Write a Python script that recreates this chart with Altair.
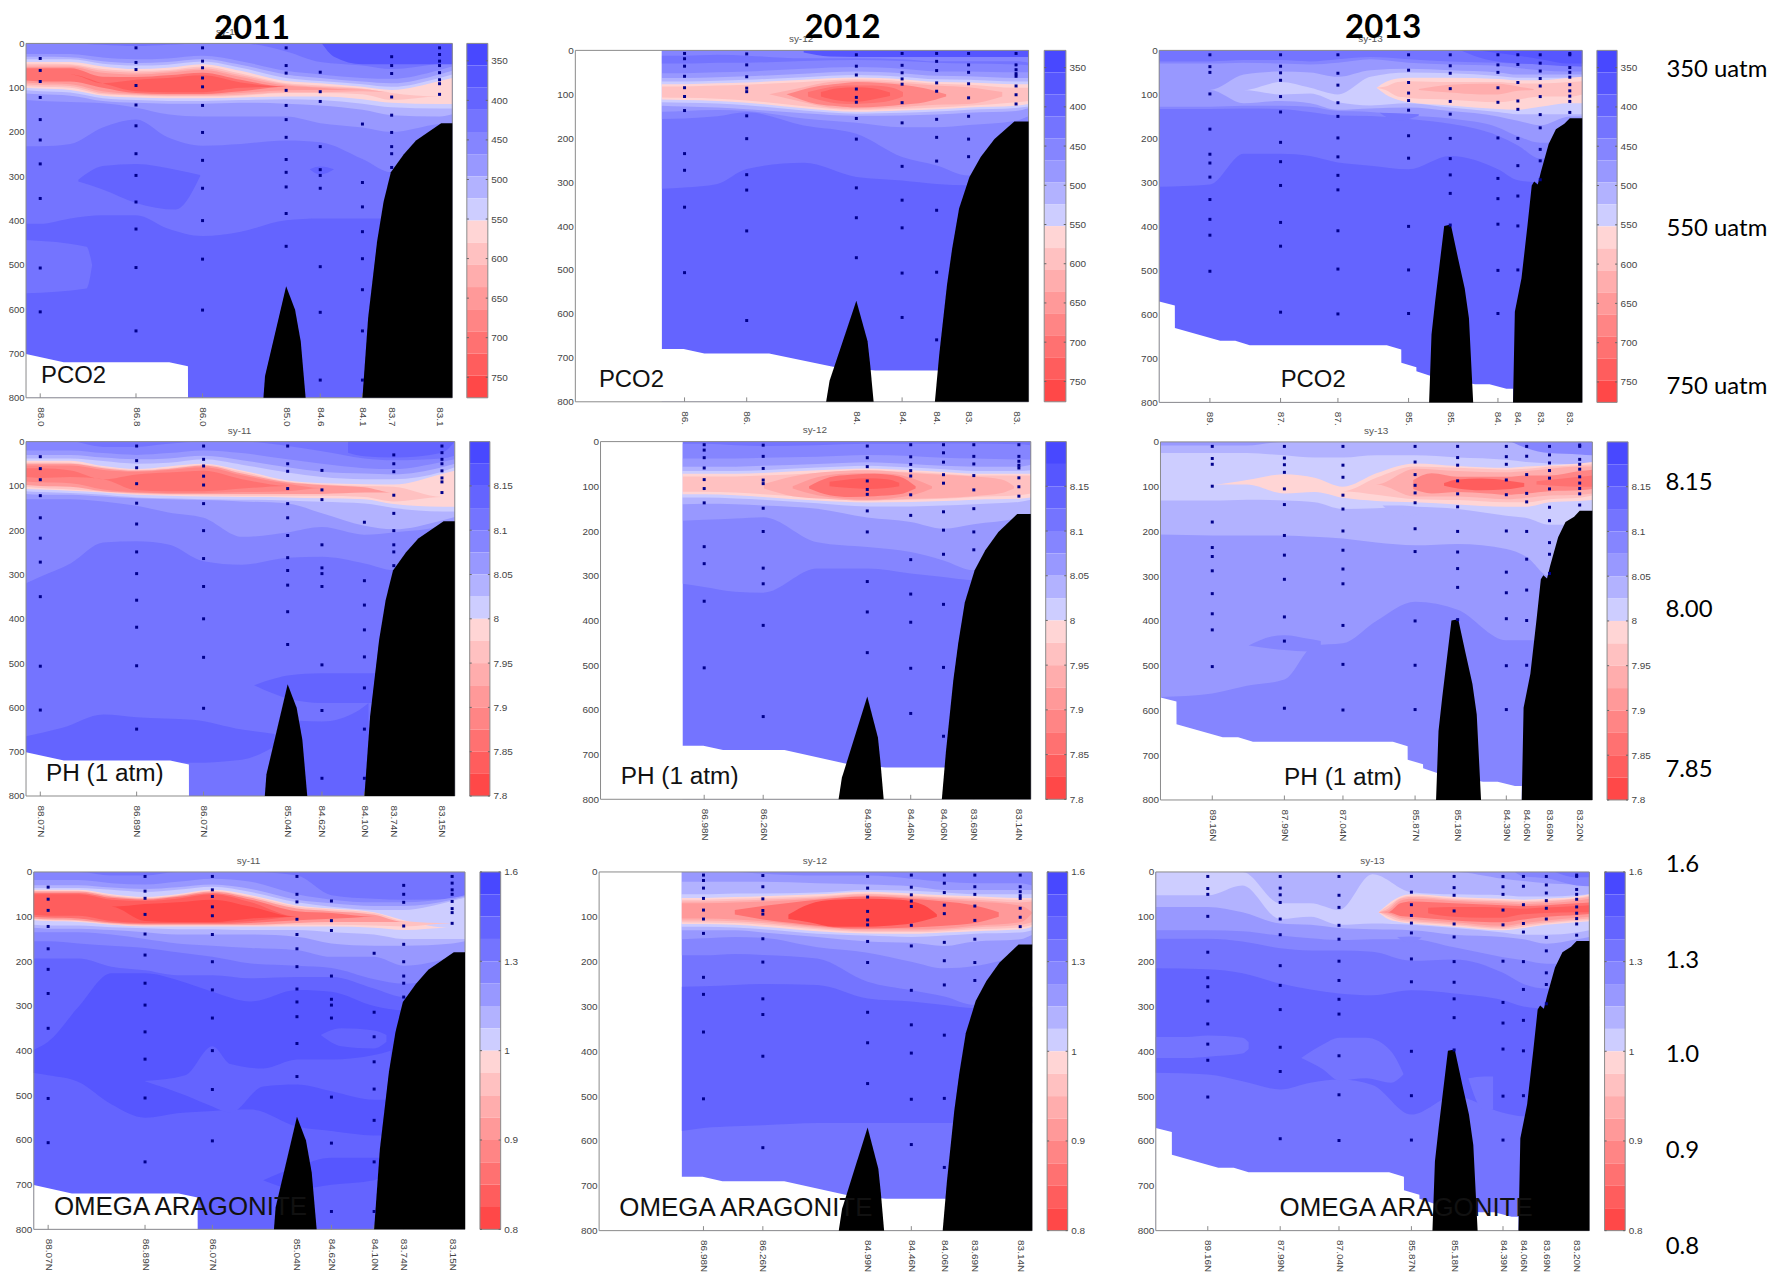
import altair as alt
import pandas as pd

W, H = 1767, 1267
SHADES = [72, 86, 100, 116, 133, 152, 178, 205, 213, 193, 173, 153, 133, 113, 93, 72]
COLORS = ["#%02x%02xff" % (s, s) for s in SHADES[:8]] + ["#ff%02x%02x" % (s, s) for s in SHADES[8:]]
LEVELS = list(range(16))

DOM11 = [88.245, 82.993]
DOM12 = [88.245, 82.995]
DOM13 = [90.0, 82.995]

G11 = [88.245, 88.07, 87.7, 87.3, 86.89, 86.5, 86.07, 85.6, 85.04, 84.62, 84.10, 83.74, 83.15, 82.993]
G12 = [87.245, 86.98, 86.6, 86.26, 85.6, 84.99, 84.46, 84.06, 83.69, 83.14, 82.995]
G13 = [90.0, 89.16, 88.6, 87.99, 87.5, 87.04, 86.5, 85.87, 85.18, 84.39, 84.06, 83.69, 83.2, 82.995]
CORE13 = [86.4, 86.25, 86.05, 85.87, 85.18, 84.39, 84.06, 83.69, 83.2, 82.995]

TICKS11 = [88.07, 86.89, 86.07, 85.04, 84.62, 84.10, 83.74, 83.15]
TICKS12 = [86.98, 86.26, 84.99, 84.46, 84.06, 83.69, 83.14]
TICKS13 = [89.16, 87.99, 87.04, 85.87, 85.18, 84.39, 84.06, 83.69, 83.20]

SAMPLES11 = {
    88.07: [34, 61, 86, 122, 172, 218, 272, 350, 507, 606],
    86.89: [10, 43, 59, 95, 139, 186, 249, 298, 358, 419, 506, 649],
    86.07: [10, 40, 55, 78, 98, 140, 201, 264, 327, 400, 487, 602],
    85.04: [10, 50, 67, 106, 140, 172, 212, 262, 291, 324, 384, 458],
    84.62: [65, 109, 131, 233, 285, 298, 327, 504, 607, 760],
    84.10: [182, 314, 369, 425, 486, 556, 649, 760],
    83.74: [30, 50, 68, 121, 162, 201, 233, 249, 280],
    83.15: [10, 25, 40, 50, 66, 82, 91, 115],
}
SAMPLES12 = {
    86.98: [7, 19, 36, 59, 85, 105, 137, 235, 273, 357, 506],
    86.26: [8, 33, 60, 86, 94, 149, 201, 283, 318, 411, 615],
    84.99: [10, 36, 56, 88, 107, 118, 155, 202, 313, 381, 472],
    84.46: [7, 34, 51, 65, 77, 119, 165, 264, 341, 404, 507, 608],
    84.06: [7, 25, 46, 74, 93, 157, 198, 252, 364, 505, 659],
    83.69: [7, 33, 50, 76, 108, 150, 202, 242],
    83.14: [7, 33, 44, 53, 59, 81, 101, 122],
}
SAMPLES13 = {
    89.16: [10, 37, 50, 99, 179, 236, 256, 288, 339, 384, 420, 502],
    87.99: [10, 36, 51, 68, 105, 140, 209, 253, 307, 391, 445, 595],
    87.04: [10, 52, 79, 119, 150, 199, 242, 284, 317, 410, 497, 599],
    85.87: [10, 45, 73, 97, 114, 136, 194, 245, 400, 499, 598],
    85.18: [10, 35, 52, 87, 116, 145, 200, 246, 283, 325, 397],
    84.39: [10, 33, 50, 85, 118, 199, 291, 337, 395, 500, 598],
    84.06: [10, 32, 73, 115, 134, 200, 262, 331, 399, 499],
    83.69: [10, 29, 47, 64, 81, 105, 146, 176, 225, 251, 294],
    83.20: [7, 10, 39, 50, 61, 78, 92, 104, 116, 141],
}

RIDGE11 = ([85.32, 85.30, 85.04, 84.93, 84.86, 84.80], [800, 751, 548, 601, 673, 800])
SHELF11 = ([84.10, 84.03, 83.92, 83.84, 83.75, 83.59, 83.44, 83.13, 82.993], [800, 620, 448, 358, 291, 250, 219, 180, 180])
RIDGE12 = ([85.34, 85.30, 84.99, 84.86, 84.83, 84.79], [800, 752, 570, 662, 715, 800])
SHELF12 = ([84.08, 84.03, 83.94, 83.88, 83.80, 83.68, 83.55, 83.39, 83.16, 82.995], [800, 693, 534, 451, 360, 288, 243, 202, 162, 162])
RIDGE13 = ([85.53, 85.49, 85.43, 85.28, 85.17, 85.05, 84.94, 84.87, 84.80], [800, 646, 571, 399, 396, 473, 541, 609, 800])
SHELF13 = ([84.14, 84.11, 84.0, 83.9, 83.83, 83.79, 83.73, 83.68, 83.55, 83.43, 83.29, 83.20, 82.995],
           [800, 594, 518, 397, 307, 298, 305, 277, 213, 179, 167, 154, 154])

MASK11 = ([88.245, 87.78, 86.48, 86.25, 86.249], [701, 720, 720, 729, 800])
MASK12 = ([88.245, 87.246, 87.245, 86.99, 86.75, 86.0, 85.26, 84.77, 84.05, 84.0], [0, 0, 680, 680, 690, 690, 720, 729, 729, 729])
MASK13 = ([90.0, 89.741, 89.74, 88.99, 88.74, 88.5, 86.23, 85.991, 85.99, 85.741, 85.74, 85.5, 84.77, 84.53, 84.25, 84.14],
          [571, 580, 631, 660, 660, 670, 670, 680, 710, 720, 729, 740, 759, 759, 769, 769])

# Filled contour bands, painted in order: (level, tops, bottoms[, latitudes])
PCO2_11 = [
    (2, 0, 800),
    (3, 0, [407, 407, 395, 388, 388, 418, 435, 425, 399, 395, 395, 395, 395, 395]),
    (3, [444, 459, 500], [564, 553, 500], [88.245, 87.5, 87.43]),
    (2, [308, 277, 272, 285, 297], [312, 330, 360, 375, 300], [87.6, 87.3, 86.89, 86.4, 86.1]),
    (2, [284, 278, 284], [284, 296, 284], [84.75, 84.62, 84.45]),
    (4, [0, 0, 0, 3, 6, 3, 0, 0, 18, 42, 50, 58, 45, 40], [232, 232, 227, 190, 172, 212, 231, 227, 219, 223, 261, 291, 290, 290]),
    (5, [24, 24, 24, 32, 36, 34, 28, 40, 62, 70, 78, 80, 60, 52], [128, 130, 132, 135, 145, 160, 165, 165, 165, 180, 190, 200, 182, 180]),
    (6, [30, 30, 31, 40, 44, 42, 35, 48, 70, 78, 86, 90, 70, 62], [113, 115, 118, 130, 134, 136, 136, 134, 136, 140, 150, 162, 165, 160]),
    (7, [36, 36, 36, 46, 50, 48, 41, 55, 78, 85, 92, 98, 78, 70], [106, 108, 111, 124, 128, 130, 130, 128, 126, 128, 136, 144, 147, 147]),
    (8, [42, 42, 42, 52, 58, 55, 47, 62, 85, 90, 98, 105, 85, 78], [100, 102, 105, 118, 122, 124, 124, 122, 120, 120, 126, 134, 137, 137]),
    (9, [46, 46, 47, 58, 62, 60, 52, 68, 90, 95, 102, 112, 120, 120], [96, 98, 100, 115, 118, 120, 120, 118, 112, 112, 115, 128, 120, 120]),
    (10, [50, 50, 50, 62, 66, 63, 56, 72, 92, 98, 103, 110, 110, 110], [92, 94, 96, 112, 116, 118, 118, 116, 110, 110, 108, 110, 110, 110]),
    (11, [53, 53, 53, 66, 70, 66, 60, 76, 95, 100, 105, 105, 105, 105], [88, 90, 92, 108, 114, 116, 116, 112, 106, 105, 105, 105, 105, 105]),
    (13, [56, 56, 56, 75, 76, 72, 66, 82, 98, 98, 98, 98, 98, 98], [84, 86, 86, 100, 112, 114, 114, 108, 98, 98, 98, 98, 98, 98]),
    (14, [70, 70, 70, 90, 82, 78, 72, 88, 98, 98, 98, 98, 98, 98], [70, 70, 70, 90, 108, 110, 110, 100, 98, 98, 98, 98, 98, 98]),
    (1, 0, [0, 30, 47, 47, 47, 47], [84.6, 84.45, 84.1, 83.74, 83.15, 82.993]),
]
PH_11 = [
    (3, 0, 800),
    (2, [665, 646, 616, 622, 628, 650, 660], [720, 725, 725, 725, 725, 718, 688], [88.245, 87.8, 87.3, 86.89, 86.2, 85.6, 85.2]),
    (2, [550, 535, 528, 523, 523, 523], [550, 570, 580, 590, 590, 590], [85.45, 85.2, 85.04, 84.62, 84.10, 83.95]),
    (2, [630, 632, 610, 590], [800, 800, 800, 800], [84.9, 84.62, 84.2, 84.05]),
    (4, [0, 0, 0, 12, 12, 5, 0, 0, 10, 22, 38, 42, 38, 32], [320, 305, 275, 228, 225, 232, 270, 278, 262, 260, 275, 290, 290, 290]),
    (5, [20, 20, 20, 26, 30, 26, 20, 26, 40, 50, 60, 62, 46, 40], [130, 130, 130, 135, 145, 160, 172, 215, 205, 193, 210, 205, 190, 180]),
    (6, [30, 30, 30, 36, 40, 38, 32, 42, 58, 68, 72, 74, 58, 50], [118, 120, 120, 124, 128, 130, 132, 135, 140, 162, 190, 198, 178, 170]),
    (7, [38, 38, 38, 44, 50, 48, 40, 52, 70, 80, 85, 85, 68, 58], [112, 114, 116, 120, 126, 128, 130, 131, 133, 136, 140, 150, 158, 158]),
    (8, [43, 43, 43, 55, 62, 56, 50, 65, 88, 94, 96, 97, 73, 66], [107, 108, 111, 115, 120, 122, 124, 125, 126, 128, 130, 141, 147, 147]),
    (9, [47, 47, 48, 58, 64, 60, 52, 68, 90, 96, 100, 102, 125, 125], [102, 105, 108, 113, 118, 120, 121, 122, 122, 122, 125, 135, 125, 125]),
    (11, [50, 50, 50, 60, 66, 62, 54, 72, 92, 98, 103, 115, 115, 115], [98, 100, 102, 112, 116, 118, 118, 118, 118, 118, 115, 115, 115, 115]),
    (12, [54, 54, 54, 64, 68, 64, 58, 76, 95, 105, 105, 105, 105, 105], [90, 92, 94, 108, 114, 116, 116, 114, 112, 105, 105, 105, 105, 105]),
    (13, [60, 60, 65, 85, 74, 70, 66, 85, 100, 100, 100, 100, 100, 100], [80, 82, 80, 85, 110, 112, 112, 106, 100, 100, 100, 100, 100, 100]),
    (2, 0, [25, 33, 36, 25, 0], [84.3, 84.1, 83.74, 83.15, 82.993]),
]
OMEGA_11 = [
    (2, 0, 800),
    (1, [398, 380, 302, 227, 227, 242, 268, 290, 264, 268, 300, 310, 310, 310], [450, 455, 470, 520, 550, 540, 535, 532, 570, 580, 590, 590, 590, 590]),
    (2, [468, 455, 390, 430, 440, 420, 420, 410, 400], [468, 500, 525, 539, 480, 476, 491, 510, 510], [86.9, 86.4, 86.07, 85.85, 85.45, 85.04, 84.62, 84.1, 83.9]),
    (2, [365, 350, 355, 365], [365, 390, 395, 380], [84.75, 84.5, 84.1, 83.95]),
    (1, [690, 660, 640, 640, 640], [690, 710, 700, 690, 680], [85.45, 85.04, 84.62, 84.1, 84.0]),
    (3, 0, [194, 194, 194, 212, 220, 231, 231, 238, 235, 235, 261, 280, 280, 280]),
    (4, [0, 0, 0, 8, 8, 0, 0, 0, 8, 52, 60, 62, 60, 58], [155, 155, 160, 165, 170, 180, 190, 205, 210, 215, 240, 250, 240, 240]),
    (5, [18, 18, 18, 25, 28, 22, 15, 22, 50, 62, 68, 68, 58, 52], [135, 135, 135, 140, 150, 160, 165, 170, 175, 190, 190, 210, 190, 180]),
    (6, [30, 30, 30, 35, 38, 34, 28, 38, 62, 70, 76, 76, 62, 55], [125, 127, 127, 130, 135, 140, 140, 140, 145, 160, 165, 165, 160, 155]),
    (7, [36, 36, 36, 40, 45, 40, 33, 45, 68, 78, 85, 85, 65, 58], [118, 120, 120, 124, 126, 128, 128, 130, 130, 135, 140, 150, 150, 150]),
    (8, [40, 40, 40, 50, 56, 50, 40, 52, 75, 82, 90, 108, 125, 125], [108, 110, 112, 118, 122, 122, 122, 122, 122, 122, 125, 130, 125, 125]),
    (9, [42, 42, 42, 52, 58, 52, 42, 55, 78, 84, 92, 110, 115, 115], [106, 108, 110, 117, 120, 120, 120, 120, 118, 118, 120, 122, 115, 115]),
    (11, [44, 44, 44, 55, 60, 54, 44, 58, 82, 88, 96, 112, 112, 112], [104, 106, 108, 115, 118, 118, 118, 118, 114, 112, 112, 112, 112, 112]),
    (13, [47, 47, 47, 58, 62, 56, 47, 62, 88, 92, 100, 100, 100, 100], [100, 102, 104, 113, 116, 116, 116, 114, 108, 105, 100, 100, 100, 100]),
    (14, [50, 50, 50, 62, 65, 60, 50, 68, 100, 100, 100, 100, 100, 100], [96, 98, 98, 110, 114, 114, 114, 110, 100, 100, 100, 100, 100, 100]),
    (15, [78, 78, 78, 78, 72, 68, 62, 78, 100, 100, 100, 100, 100, 100], [78, 78, 78, 78, 110, 112, 112, 104, 100, 100, 100, 100, 100, 100]),
]
PCO2_12 = [
    (2, 0, 800),
    (3, 0, [315, 312, 304, 270, 256, 288, 296, 304, 307, 300, 300]),
    (4, 0, [156, 155, 150, 141, 171, 190, 243, 262, 285, 280, 280]),
    (3, [12, 12, 10, 12, 18, 18, 20, 25, 25, 25, 28], [30, 30, 28, 28, 24, 22, 24, 28, 30, 32, 34]),
    (5, [52, 52, 50, 48, 42, 38, 42, 48, 48, 50, 50], [140, 138, 136, 138, 155, 165, 175, 175, 170, 160, 150]),
    (6, [63, 63, 61, 59, 53, 48, 52, 58, 59, 63, 63], [126, 128, 130, 134, 143, 149, 148, 146, 142, 138, 132]),
    (7, [71, 71, 69, 67, 61, 56, 60, 66, 67, 71, 71], [118, 119, 121, 125, 137, 144, 142, 139, 135, 131, 128]),
    (8, [77, 77, 75, 73, 67, 62, 66, 72, 73, 77, 77], [112, 113, 115, 119, 132, 140, 137, 134, 130, 126, 122]),
    (9, [82, 82, 80, 78, 72, 66, 70, 76, 78, 85, 85], [107, 108, 110, 114, 127, 136, 133, 130, 126, 118, 115]),
    (10, [100, 84, 72, 69, 74, 80, 84, 95], [100, 118, 130, 133, 129, 124, 122, 105], [86.0, 85.6, 85.3, 84.99, 84.46, 84.06, 83.69, 83.3]),
    (12, [100, 82, 76, 72, 74, 78, 86, 100], [100, 122, 127, 130, 128, 124, 118, 105], [85.8, 85.45, 85.2, 84.99, 84.7, 84.46, 84.2, 83.95]),
    (13, [95, 84, 80, 80, 86, 95], [105, 118, 122, 120, 112, 105], [85.55, 85.3, 85.1, 84.8, 84.55, 84.45]),
    (14, [95, 86, 84, 86, 96], [105, 114, 117, 112, 104], [85.4, 85.2, 84.99, 84.8, 84.6]),
    (1, 0, [5, 14, 15, 15, 15, 15], [85.6, 85.3, 84.99, 84.06, 83.14, 82.995]),
]
PH_12 = [
    (3, 0, 800),
    (4, [5, 5, 8, 10, 8, 5, 5, 4, 4, 6, 8], [318, 325, 336, 338, 284, 284, 295, 303, 310, 300, 300]),
    (5, [38, 38, 38, 36, 34, 30, 32, 36, 38, 40, 40], [177, 175, 172, 169, 225, 236, 247, 266, 288, 280, 280]),
    (6, [56, 56, 56, 54, 50, 46, 50, 54, 56, 56, 52], [140, 139, 140, 143, 150, 170, 180, 195, 185, 170, 160]),
    (7, [66, 66, 66, 64, 58, 54, 58, 62, 66, 66, 64], [125, 125, 127, 130, 138, 145, 145, 143, 140, 135, 130]),
    (8, [72, 72, 72, 70, 64, 60, 64, 68, 72, 72, 72], [118, 118, 120, 124, 132, 136, 135, 133, 130, 128, 125]),
    (9, [78, 78, 78, 76, 70, 64, 68, 72, 76, 76, 76], [112, 112, 114, 118, 126, 132, 130, 128, 124, 120, 116]),
    (10, [95, 78, 68, 64, 70, 74, 78, 85, 100], [105, 122, 128, 132, 128, 126, 122, 115, 105], [86.25, 85.9, 85.5, 84.99, 84.46, 84.06, 83.69, 83.35, 83.2]),
    (11, [100, 80, 72, 70, 72, 85, 100], [105, 120, 127, 130, 127, 118, 105], [85.9, 85.6, 85.3, 84.99, 84.7, 84.4, 84.2]),
    (13, [100, 80, 74, 72, 78, 100], [105, 120, 124, 122, 118, 105], [85.7, 85.45, 85.2, 84.9, 84.6, 84.4]),
    (14, [90, 84, 82, 84, 92], [100, 104, 106, 104, 100], [85.45, 85.2, 84.99, 84.75, 84.6]),
]
OMEGA_12 = [
    (3, 0, 800),
    (2, [256, 255, 252, 250, 252, 282, 289, 297, 304, 300, 300], [578, 571, 567, 565, 560, 560, 560, 560, 560, 560, 560]),
    (4, 0, [186, 186, 183, 185, 193, 245, 264, 278, 297, 290, 290]),
    (5, [0, 0, 0, 4, 8, 8, 15, 22, 25, 25, 30], [150, 148, 145, 147, 168, 180, 200, 215, 210, 180, 165]),
    (6, [22, 22, 22, 22, 25, 28, 32, 40, 40, 40, 40], [130, 130, 130, 135, 145, 155, 158, 165, 155, 150, 140]),
    (7, [50, 50, 48, 48, 46, 40, 42, 46, 50, 50, 50], [122, 122, 124, 128, 138, 142, 145, 142, 138, 135, 130]),
    (8, [58, 58, 56, 54, 50, 44, 48, 52, 54, 58, 58], [116, 116, 118, 122, 132, 137, 138, 135, 132, 128, 122]),
    (9, [62, 62, 60, 58, 54, 48, 52, 56, 58, 62, 62], [112, 113, 114, 118, 128, 134, 134, 132, 128, 124, 118]),
    (10, [66, 66, 64, 62, 57, 50, 54, 58, 62, 68, 66], [108, 108, 110, 114, 125, 131, 131, 129, 124, 118, 112]),
    (11, [70, 70, 68, 66, 60, 53, 57, 62, 66, 75, 90], [104, 104, 106, 110, 122, 128, 128, 126, 120, 112, 92]),
    (13, [85, 76, 68, 62, 56, 55, 60, 66, 75, 90], [95, 106, 114, 120, 126, 126, 124, 120, 114, 100], [86.6, 86.26, 85.9, 85.6, 85.2, 84.99, 84.46, 84.06, 83.69, 83.4]),
    (15, [95, 72, 62, 60, 62, 75, 95], [105, 112, 122, 122, 118, 108, 100], [85.95, 85.7, 85.4, 84.99, 84.6, 84.3, 84.15]),
]
PCO2_13 = [
    (2, 0, 800),
    (3, 0, [310, 305, 235, 235, 240, 255, 262, 270, 240, 270, 295, 300, 300, 300]),
    (4, [25, 25, 22, 22, 25, 20, 15, 20, 25, 28, 30, 32, 35, 38], [133, 133, 132, 133, 140, 148, 149, 156, 167, 194, 216, 246, 240, 240]),
    (5, [30, 30, 28, 30, 32, 28, 20, 28, 32, 35, 40, 45, 48, 48], [128, 128, 126, 126, 128, 138, 140, 148, 155, 175, 195, 210, 200, 180]),
    (6, [90, 90, 55, 48, 50, 60, 45, 42, 45, 50, 55, 55, 55, 55], [90, 90, 120, 115, 120, 135, 132, 130, 138, 150, 160, 170, 150, 150]),
    (7, [90, 90, 90, 72, 85, 100, 60, 50, 52, 58, 62, 62, 62, 62], [90, 90, 90, 100, 98, 118, 125, 120, 130, 140, 145, 145, 145, 145]),
    (8, [85, 72, 64, 62, 62, 65, 68, 68, 62, 60], [85, 100, 112, 118, 125, 133, 135, 128, 120, 120], CORE13),
    (9, [85, 82, 72, 70, 72, 72, 75, 75, 72, 70], [85, 90, 105, 108, 112, 118, 112, 105, 105, 100], CORE13),
    (10, [88, 78, 76, 76, 82, 88], [90, 96, 100, 100, 92, 90], [85.7, 85.18, 84.7, 84.39, 84.06, 83.8]),
    (2, 0, [0, 20, 28, 32, 36, 36], [85.0, 84.6, 84.2, 83.69, 83.2, 82.995]),
    (1, 0, [0, 6, 12, 20, 30, 30], [84.7, 84.39, 84.06, 83.69, 83.2, 82.995]),
    (3, [142, 143, 145], [142, 160, 148], [86.35, 86.05, 85.7]),
]
PH_13 = [
    (4, 0, 800),
    (5, 0, [570, 562, 545, 531, 455, 450, 400, 357, 375, 443, 443, 443, 443, 443]),
    (4, [455, 435, 432, 440, 445], [455, 462, 465, 468, 468], [88.57, 88.2, 87.99, 87.6, 87.4]),
    (6, [8, 8, 8, 0, 0, 0, 0, 0, 0, 0, 8, 14, 18, 20], [207, 209, 209, 209, 212, 216, 225, 231, 228, 239, 257, 300, 290, 290]),
    (7, [25, 25, 25, 30, 35, 35, 30, 30, 35, 40, 45, 48, 50, 50], [131, 131, 129, 131, 135, 150, 148, 145, 150, 165, 170, 185, 185, 185]),
    (6, [142, 142, 143, 150], [142, 160, 165, 150], [86.4, 86.2, 85.95, 85.7]),
    (8, [95, 95, 85, 72, 80, 100, 70, 48, 54, 58, 55, 52, 48, 45], [95, 95, 95, 115, 112, 125, 132, 135, 140, 145, 145, 135, 132, 130]),
    (9, [110, 110, 110, 110, 110, 110, 80, 55, 58, 62, 60, 55, 52, 50], [110, 110, 110, 110, 110, 110, 118, 128, 130, 135, 135, 128, 125, 120]),
    (10, [95, 95, 95, 95, 95, 95, 95, 60, 65, 68, 65, 60, 55, 55], [95, 95, 95, 95, 95, 95, 95, 122, 122, 128, 125, 120, 118, 115]),
    (12, [85, 70, 78, 78, 78, 75, 75, 65, 62], [105, 115, 112, 115, 118, 115, 110, 108, 105], [85.9, 85.6, 85.18, 84.7, 84.39, 84.06, 83.69, 83.2, 82.995]),
    (14, [92, 84, 82, 86, 92], [98, 104, 108, 106, 100], [85.4, 85.18, 84.8, 84.39, 84.1]),
    (13, [88, 78, 75], [95, 100, 100], [83.9, 83.2, 82.995]),
    (4, 0, [0, 14, 25, 28, 30], [84.3, 84.06, 83.69, 83.2, 82.995]),
]
OMEGA_13 = [
    (3, 0, 800),
    (2, [215, 217, 226, 249, 262, 271, 275, 264, 271, 286, 300, 305, 300, 300], [448, 452, 467, 485, 470, 463, 475, 541, 500, 537, 545, 545, 545, 545]),
    (3, [368, 368, 365, 370, 380], [415, 415, 412, 405, 395], [90.0, 89.5, 89.16, 88.6, 88.5]),
    (3, [415, 385, 370, 370, 400, 450], [415, 440, 465, 460, 470, 452], [87.65, 87.3, 87.04, 86.6, 86.2, 86.0]),
    (3, [460, 456, 456], [460, 530, 530], [84.95, 84.7, 84.55]),
    (4, 0, [149, 149, 155, 170, 175, 175, 178, 198, 195, 225, 250, 260, 260, 260]),
    (5, 0, [130, 130, 132, 142, 148, 152, 150, 150, 168, 190, 197, 205, 200, 195]),
    (6, [0, 0, 0, 0, 0, 0, 0, 0, 0, 15, 20, 25, 28, 30], [78, 78, 90, 115, 118, 125, 128, 130, 140, 145, 150, 160, 150, 145]),
    (7, [0, 0, 0, 70, 70, 85, 5, 45, 50, 52, 55, 55, 52, 50], [52, 52, 30, 105, 100, 118, 115, 118, 125, 135, 140, 140, 135, 130]),
    (4, [145, 144, 146], [145, 158, 146], [86.1, 85.9, 85.7]),
    (8, [90, 72, 55, 50, 56, 60, 62, 60, 55, 50], [90, 105, 112, 115, 122, 130, 125, 118, 112, 110], CORE13),
    (9, [90, 76, 58, 53, 59, 63, 65, 63, 58, 53], [90, 100, 110, 112, 119, 127, 122, 115, 109, 107], CORE13),
    (10, [90, 82, 60, 56, 62, 66, 68, 66, 60, 56], [90, 96, 106, 109, 116, 124, 118, 112, 106, 104], CORE13),
    (11, [90, 86, 64, 60, 65, 70, 72, 70, 64, 60], [90, 92, 102, 105, 112, 120, 114, 108, 102, 100], CORE13),
    (13, [90, 90, 70, 66, 70, 74, 76, 74, 70, 68], [90, 90, 98, 100, 108, 112, 106, 100, 96, 94], CORE13),
    (14, [80, 78, 78, 80, 82, 80, 76, 74], [92, 100, 102, 102, 95, 92, 90, 90], [85.6, 85.18, 84.7, 84.39, 84.1, 83.8, 83.2, 82.995]),
    (4, 0, [0, 10, 14, 30, 32], [84.2, 84.06, 83.69, 83.2, 82.995]),
    (3, 0, [0, 12, 12], [83.55, 83.2, 82.995]),
]

EDGES_PCO2 = [328, 356, 384, 412, 440, 468, 496, 524, 552, 580, 608, 636, 664, 692, 720, 748, 776]
EDGES_PH = [8.2, 8.175, 8.15, 8.125, 8.1, 8.075, 8.05, 8.025, 8.0, 7.975, 7.95, 7.925, 7.9, 7.875, 7.85, 7.825, 7.8]
EDGES_OMEGA = [1.6, 1.525, 1.45, 1.375, 1.3, 1.225, 1.15, 1.075, 1.0, 0.975, 0.95, 0.925, 0.9, 0.875, 0.85, 0.825, 0.8]
BAR_PCO2 = [350, 400, 450, 500, 550, 600, 650, 700, 750]
BAR_PH = [8.15, 8.1, 8.05, 8, 7.95, 7.9, 7.85, 7.8]
BAR_OMEGA = [1.6, 1.3, 1, 0.9, 0.8]

SANS = "Liberation Sans"
CAL = "Lato"
GREY = "#444444"
FRAME = "#8a8a8a"


def scale(domain, rng):
    return alt.Scale(domain=domain, range=rng, nice=False, zero=False)


def bands_frame(grid, bands):
    rows = []
    for seq, band in enumerate(bands):
        lvl, tops, bots = band[:3]
        xs = band[3] if len(band) > 3 else grid
        n = len(xs)
        tops = tops if isinstance(tops, list) else [tops] * n
        bots = bots if isinstance(bots, list) else [bots] * n
        for x, t, b in zip(xs, tops, bots):
            rows.append({"lat": x, "top": t, "bot": b, "lvl": lvl, "seq": seq})
    return pd.DataFrame(rows)


COLOR = alt.Color("lvl:O", scale=alt.Scale(domain=LEVELS, range=COLORS), legend=None)


def panel(geom, dom, grid, bands, mask, ridge, shelf, samples, ticks, cut, label, lab_lat, lab_align, lab_size, sy_text, sy_lat, ylabsize):
    xl, xr, yt, yb = geom
    sx = scale(dom, [xl - 16, xr - 16])
    sy = scale([0, 800], [yt - 8, yb - 8])
    X = alt.X("lat:Q", scale=sx, axis=None)
    Y = alt.Y("d:Q", scale=sy, axis=None)
    if cut:
        expr = "slice(format(datum.value,'.2f'),0,%d)" % cut
    else:
        expr = "format(datum.value,'.2f')+'N'"
    xaxis = alt.Axis(title="", orient="bottom", offset=yb - 8 - H, values=ticks, labelExpr=expr, labelAngle=90,
                     labelAlign="left", labelBaseline="middle", labelPadding=9, labelOverlap=False, labelFontSize=10,
                     labelFont=SANS, labelColor=GREY, grid=False, domain=False, ticks=False)
    yaxis = alt.Axis(title="", orient="left", offset=-(xl - 16), values=list(range(0, 801, 100)), labelPadding=2,
                     labelFontSize=ylabsize, labelFont=SANS, labelColor=GREY, grid=False, domain=False, ticks=False)
    df = bands_frame(grid, bands)
    layers = [
        alt.Chart(df).mark_area(interpolate="monotone").encode(
            x=alt.X("lat:Q", scale=sx, axis=xaxis),
            y=alt.Y("top:Q", scale=sy, axis=yaxis),
            y2="bot:Q",
            color=COLOR,
            detail="seq:N",
        )
    ]
    mdf = pd.DataFrame({"lat": mask[0], "d": mask[1], "b": [800] * len(mask[0])})
    layers.append(alt.Chart(mdf).mark_area(color="white").encode(x=X, y=Y, y2="b:Q"))
    frame = pd.DataFrame({"lat": [dom[0]], "lat2": [dom[1]], "d": [0], "d2": [800]})
    layers.append(alt.Chart(frame).mark_rect(fillOpacity=0, stroke=FRAME, strokeWidth=1).encode(x=X, x2="lat2:Q", y=Y, y2="d2:Q"))
    tdf = pd.DataFrame({"lat": ticks, "d": [800] * len(ticks), "d2": [790] * len(ticks)})
    layers.append(alt.Chart(tdf).mark_rule(color=FRAME, strokeWidth=1).encode(x=X, y=Y, y2="d2:Q"))
    for part in (ridge, shelf):
        pdf = pd.DataFrame({"lat": part[0], "d": part[1], "b": [800] * len(part[0])})
        layers.append(alt.Chart(pdf).mark_area(color="black").encode(x=X, y=Y, y2="b:Q"))
    dots = pd.DataFrame([{"lat": k, "d": v} for k, vals in samples.items() for v in vals])
    layers.append(alt.Chart(dots).mark_square(size=9, color="#00008c", opacity=1).encode(x=X, y=Y))
    ldf = pd.DataFrame({"lat": [lab_lat], "d": [750], "t": [label]})
    layers.append(alt.Chart(ldf).mark_text(font=SANS, fontSize=lab_size, align=lab_align, baseline="middle", color="#111111").encode(x=X, y=Y, text="t:N"))
    sdf = pd.DataFrame({"lat": [sy_lat], "d": [-25], "t": [sy_text]})
    layers.append(alt.Chart(sdf).mark_text(font=SANS, fontSize=10, align="center", baseline="middle", color="#555555").encode(x=X, y=Y, text="t:N"))
    return layers


def colorbar(xs, ys, edges, dom, rng, ticks, size):
    sx = scale([0, 1], [xs[0] - 16, xs[1] - 16])
    sy = scale(dom, rng)
    rows = [{"a": 0, "b": 1, "v": edges[i], "v2": edges[i + 1], "lvl": i} for i in LEVELS]
    yaxis = alt.Axis(title="", orient="right", offset=xs[1] - 16 - W, values=ticks, labelExpr="''+datum.value", labelPadding=3,
                     labelFontSize=size, labelFont=SANS, labelColor=GREY, grid=False, domain=False, ticks=False)
    bar = alt.Chart(pd.DataFrame(rows)).mark_rect().encode(
        x=alt.X("a:Q", scale=sx, axis=None), x2="b:Q",
        y=alt.Y("v:Q", scale=sy, axis=yaxis), y2="v2:Q", color=COLOR)
    frame = pd.DataFrame({"a": [0], "b": [1], "v": [dom[0]], "v2": [dom[-1]]})
    box = alt.Chart(frame).mark_rect(fillOpacity=0, stroke=FRAME, strokeWidth=1).encode(
        x=alt.X("a:Q", scale=sx, axis=None), x2="b:Q", y=alt.Y("v:Q", scale=sy, axis=None), y2="v2:Q")
    marks = [{"a": p, "b": q, "v": t} for t in ticks for p, q in ((0, 0.1), (0.9, 1))]
    tk = alt.Chart(pd.DataFrame(marks)).mark_rule(color="#666666", strokeWidth=1).encode(
        x=alt.X("a:Q", scale=sx, axis=None), x2="b:Q", y=alt.Y("v:Q", scale=sy, axis=None))
    return [bar, box, tk]


def note(geom, dom, lat, depth, text, size, weight="normal", align="left"):
    xl, xr, yt, yb = geom
    sx = scale(dom, [xl - 16, xr - 16])
    sy = scale([0, 800], [yt - 8, yb - 8])
    df = pd.DataFrame({"lat": [lat], "d": [depth], "t": [text]})
    return alt.Chart(df).mark_text(font=CAL, fontSize=size, fontWeight=weight, align=align, baseline="middle", color="black").encode(
        x=alt.X("lat:Q", scale=sx, axis=None), y=alt.Y("d:Q", scale=sy, axis=None), text="t:N")


R1 = [(26.1, 454.3, 40.7, 396.7), (577.9, 1033.2, 47.7, 400.7), (1164.4, 1589.3, 47.7, 401.3)]
R2 = [(26.1, 456.8, 440.7, 796.7), (603.2, 1035.4, 440.7, 800), (1165.7, 1599.5, 441, 800.7)]
R3 = [(33.9, 467.1, 873, 1232), (601.8, 1036.8, 873, 1233.3), (1161, 1596.5, 873, 1233.3)]
CB1 = [(468.9, 490), (1048.9, 1070.7), (1604.1, 1624.4)]
CB2 = [(471.8, 492.1), (1050.4, 1071.1), (1614.3, 1635.4)]
CB3 = [(482.1, 502.9), (1051.8, 1072.5), (1611.8, 1632.5)]

L = []
L += panel(R1[0], DOM11, G11, PCO2_11, MASK11, RIDGE11, SHELF11, SAMPLES11, TICKS11, 4, "PCO2", 87.66, "center", 24, "sy-11", 85.76, 9.5)
L += panel(R1[1], DOM12, G12, PCO2_12, MASK12, RIDGE12, SHELF12, SAMPLES12, TICKS12, 3, "PCO2", 87.595, "center", 24, "sy-12", 85.63, 10)
L += panel(R1[2], DOM13, G13, PCO2_13, MASK13, RIDGE13, SHELF13, SAMPLES13, TICKS13, 3, "PCO2", 87.45, "center", 24, "sy-13", 86.5, 10)
L += panel(R2[0], DOM11, G11, PH_11, MASK11, RIDGE11, SHELF11, SAMPLES11, TICKS11, 0, "PH (1 atm)", 87.28, "center", 24.5, "sy-11", 85.63, 9.5)
L += panel(R2[1], DOM12, G12, PH_12, MASK12, RIDGE12, SHELF12, SAMPLES12, TICKS12, 0, "PH (1 atm)", 87.28, "center", 24.5, "sy-12", 85.63, 10)
L += panel(R2[2], DOM13, G13, PH_13, MASK13, RIDGE13, SHELF13, SAMPLES13, TICKS13, 0, "PH (1 atm)", 87.04, "center", 24.5, "sy-13", 86.5, 10)
L += panel(R3[0], DOM11, G11, OMEGA_11, MASK11, RIDGE11, SHELF11, SAMPLES11, TICKS11, 0, "OMEGA ARAGONITE", 88.0, "left", 26, "sy-11", 85.63, 10)
L += panel(R3[1], DOM12, G12, OMEGA_12, MASK12, RIDGE12, SHELF12, SAMPLES12, TICKS12, 0, "OMEGA ARAGONITE", 88.0, "left", 26, "sy-12", 85.63, 10)
L += panel(R3[2], DOM13, G13, OMEGA_13, MASK13, RIDGE13, SHELF13, SAMPLES13, TICKS13, 0, "OMEGA ARAGONITE", 88.0, "left", 26, "sy-13", 86.5, 10)

for i in range(3):
    size = 10
    ys = (R1[i][2], R1[i][3])
    L += colorbar(CB1[i], ys, EDGES_PCO2, [328, 776], [ys[0] - 8, ys[1] - 8], BAR_PCO2, size)
    ys = (R2[i][2], R2[i][3])
    L += colorbar(CB2[i], ys, EDGES_PH, [8.2, 7.8], [ys[0] - 8, ys[1] - 8], BAR_PH, size)
    ys = (R3[i][2], R3[i][3])
    step = (ys[1] - ys[0]) / 4
    L += colorbar(CB3[i], ys, EDGES_OMEGA, BAR_OMEGA, [ys[0] - 8 + k * step for k in range(5)], BAR_OMEGA, size)

L.append(note(R1[0], DOM11, 85.46, -33.5, "2011", 33, "bold", "center"))
L.append(note(R1[1], DOM12, 85.15, -50.5, "2012", 33, "bold", "center"))
L.append(note(R1[2], DOM13, 86.29, -50.5, "2013", 33, "bold", "center"))

NOTES_R1 = [(44, "350 uatm"), (406, "550 uatm"), (765, "750 uatm")]
NOTES_R2 = [(91, "8.15"), (376, "8.00"), (732, "7.85")]
NOTES_R3 = [(-16, "1.6"), (198, "1.3"), (409, "1.0"), (622, "0.9"), (837, "0.8")]
for d, t in NOTES_R1:
    L.append(note(R1[2], DOM13, 81.6, d, t, 24))
for d, t in NOTES_R2:
    L.append(note(R2[2], DOM13, 81.81, d, t, 24))
for d, t in NOTES_R3:
    L.append(note(R3[2], DOM13, 81.76, d, t, 24))

chart = alt.layer(*L).resolve_scale(x="independent", y="independent").properties(
    width=W, height=H, padding={"left": 8, "top": 0, "right": 0, "bottom": 0},
    autosize=alt.AutoSizeParams(type="none"),
).configure_view(stroke=None)

chart.save("out.html", embed_options={"renderer": "svg", "actions": False})
